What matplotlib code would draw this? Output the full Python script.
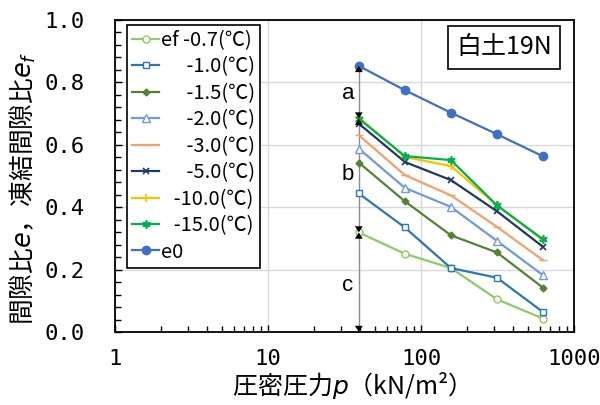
import matplotlib
matplotlib.use("Agg")
import matplotlib.pyplot as plt
from matplotlib.ticker import FixedLocator, MultipleLocator, LogLocator, NullFormatter

plt.rcParams['font.family'] = ['Noto Sans CJK JP', 'DejaVu Sans']
plt.rcParams['mathtext.fontset'] = 'dejavusans'

# ---- data ----
pressure = [39.2, 78.4, 156.8, 313.6, 627.2]
e0 = [0.853, 0.775, 0.703, 0.634, 0.563]
ef_m07 = [0.319, 0.251, 0.205, 0.105, 0.043]
ef_m10 = [0.444, 0.335, 0.205, 0.174, 0.064]
ef_m15 = [0.543, 0.419, 0.310, 0.255, 0.142]
ef_m20 = [0.588, 0.462, 0.401, 0.292, 0.182]
ef_m30 = [0.631, 0.503, 0.438, 0.337, 0.230]
ef_m50 = [0.668, 0.545, 0.487, 0.387, 0.273]
ef_m100 = [0.688, 0.561, 0.532, 0.406, 0.294]
ef_m150 = [0.684, 0.564, 0.551, 0.406, 0.297]

labels = ['ef -0.7(℃)', '\u2007\u2007-1.0(℃)', '\u2007\u2007-1.5(℃)', '\u2007\u2007-2.0(℃)',
          '\u2007\u2007-3.0(℃)', '\u2007\u2007-5.0(℃)', '\u2007-10.0(℃)', '\u2007-15.0(℃)', 'e0']
y_ticks = [0.0, 0.2, 0.4, 0.6, 0.8, 1.0]
x_ticks = [1, 10, 100, 1000]
x_ticklabels = ['1', '10', '100', '1000']

fig = plt.figure(figsize=(6.0, 4.05), dpi=100)
ax = fig.add_axes([0.1917, 0.1802, 0.765, 0.7704])

series = [
    (ef_m07, '#8CCB68', dict(marker='o', mfc='white', ms=5)),
    (ef_m10, '#2E75B6', dict(marker='s', mfc='white', ms=5)),
    (ef_m15, '#548235', dict(marker='D', ms=3.5)),
    (ef_m20, '#7099DE', dict(marker='^', mfc='white', ms=5.5)),
    (ef_m30, '#F4A06A', dict(marker='_', ms=6)),
    (ef_m50, '#1F3864', dict(marker='x', ms=5, mew=1.2)),
    (ef_m100, '#FFC000', dict(marker='+', ms=6, mew=1.2)),
    (ef_m150, '#00B050', dict(marker=(6, 2, 0), ms=6, mew=1.2)),
    (e0, '#4070C0', dict(marker='o', ms=6)),
]
for (vals, col, mk), lab in zip(series, labels):
    ax.plot(pressure, vals, color=col, lw=1.6, mec=col, label=lab, **mk)

# arrows a, b, c
x0 = pressure[0]
ax.plot([x0, x0], [0, e0[0]], color='#8c8c8c', lw=1.0, zorder=1)
arrow_kw = dict(arrowstyle='<|-|>,head_length=0.45,head_width=0.28', fc='black',
                ec='black', lw=0, shrinkA=0, shrinkB=0, mutation_scale=10)
for top, bot in [(e0[0], ef_m150[0]), (ef_m150[0], ef_m07[0]), (ef_m07[0], 0.0)]:
    ax.annotate('', xy=(x0, top), xytext=(x0, bot), arrowprops=arrow_kw, zorder=3)
for txt, yv in [('a', 0.765), ('b', 0.505), ('c', 0.15)]:
    ax.text(33.3, yv, txt, fontsize=16, ha='center', va='center', family='Liberation Sans')

ax.text(0.847, 0.912, '白土19N', transform=ax.transAxes, fontsize=18, ha='center', va='center',
        bbox=dict(boxstyle='square,pad=0.33', fc='white', ec='black', lw=1.2))

ax.set_xscale('log')
ax.set_xlim(1, 1000)
ax.set_ylim(0, 1.0)
ax.xaxis.set_major_locator(FixedLocator(x_ticks))
ax.set_xticklabels(x_ticklabels)
ax.xaxis.set_minor_locator(LogLocator(base=10, subs=range(2, 10)))
ax.xaxis.set_minor_formatter(NullFormatter())
ax.yaxis.set_major_locator(FixedLocator(y_ticks))
ax.set_yticklabels([f'{v:.1f}' for v in y_ticks])
ax.yaxis.set_minor_locator(MultipleLocator(0.04))
ax.tick_params(which='both', direction='in', top=False, right=False)
ax.tick_params(axis='y', which='major', pad=22)
ax.tick_params(axis='x', which='major', pad=12)
ax.tick_params(which='major', length=5, width=1)
ax.tick_params(which='minor', length=4, width=1)
for lab in ax.get_xticklabels() + ax.get_yticklabels():
    lab.set_family('DejaVu Sans Mono')
    lab.set_fontsize(16)
ax.grid(True, which='major', color='#d9d9d9', lw=1)
ax.set_axisbelow(True)
for s in ax.spines.values():
    s.set_linewidth(1.3)
    s.set_color('black')

ax.set_xlabel('圧密圧力$p$（kN/m²）', fontsize=18, labelpad=1)
ax.set_ylabel('間隙比$e$，凍結間隙比$e_f$', fontsize=18.5)
ax.yaxis.set_label_coords(-0.168, 0.46)

leg = ax.legend(loc='upper left', bbox_to_anchor=(0.026, 0.984), fontsize=14.5, frameon=True,
                fancybox=False, edgecolor='black', framealpha=1, handlelength=1.35,
                handletextpad=0.1, labelspacing=0.27, borderpad=0.25, borderaxespad=0)
leg.get_frame().set_linewidth(1.2)

fig.savefig('out.png', dpi=100)
